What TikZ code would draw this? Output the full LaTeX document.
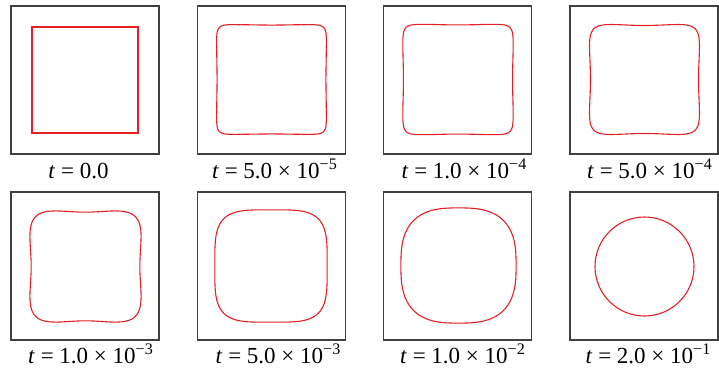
\documentclass[tikz,border=0pt]{standalone}
\usepackage{fontspec}
\setmainfont{Liberation Serif}
\usepackage{tikz}

\definecolor{frontred}{RGB}{228,32,36}
\newcommand{\stamp}[2]{\textit{t} = #1 × 10\textsuperscript{−#2}}

\tikzset{
  panel/.style={draw=black!75, line width=0.65pt},
  interface/.style={draw=frontred, line width=0.55pt},
  tag/.style={anchor=base, inner sep=0pt, font=\fontsize{11.5}{13}\selectfont},
  declare function={sqr(\ang,\ex)=1/pow(pow(abs(cos(\ang)),\ex)+pow(abs(sin(\ang)),\ex),1/\ex);}
}

\begin{document}
\begin{tikzpicture}[x=0.5pt,y=-0.5pt]
  \useasboundingbox (0,0) rectangle (719,370);
  \foreach \cx in {85,271.5,457.5,644}
    \foreach \cy in {80,266} { \draw[panel] (\cx-74,\cy-74) rectangle (\cx+74,\cy+74); }
  \draw[interface] (85-53,80-53) rectangle (85+53,80+53);     % the start: a plain square
  % centre x / centre y / size / squareness / dent of the sides
  \foreach \cx/\cy/\a/\ex/\dent in {271.5/79.5/55/13/0.01, 458/79.5/55.4/11/0.015,
      644.5/79.5/55.4/8/0.025, 85.5/266.5/56.6/5.5/0.04, 271/266/56.2/4/0, 458.5/265.5/57.6/2.8/0}
    \draw[interface] plot[domain=1:359, samples=180, variable=\ang]
      ({\cx+\a*sqr(\ang,\ex)*(1-\dent*pow(cos(2*\ang),2))*cos(\ang)},
       {\cy+\a*sqr(\ang,\ex)*(1-\dent*pow(cos(2*\ang),2))*sin(\ang)}) -- cycle;
  \draw[interface] (644.5,266.5) circle[radius=49.5];        % the end: a circle
  \node[tag] (tag1) at (78.5,178) {\textit{t} = 0.0};
  \node[tag] (tag2) at (275,178) {\stamp{5.0}{5}};
  \node[tag] (tag3) at (464.5,178) {\stamp{1.0}{4}};
  \node[tag] (tag4) at (650,178) {\stamp{5.0}{4}};
  \node[tag] (tag5) at (91,363) {\stamp{1.0}{3}};
  \node[tag] (tag6) at (278.5,363) {\stamp{5.0}{3}};
  \node[tag] (tag7) at (463,363) {\stamp{1.0}{2}};
  \node[tag] (tag8) at (648.5,363) {\stamp{2.0}{1}};
\end{tikzpicture}
\end{document}
